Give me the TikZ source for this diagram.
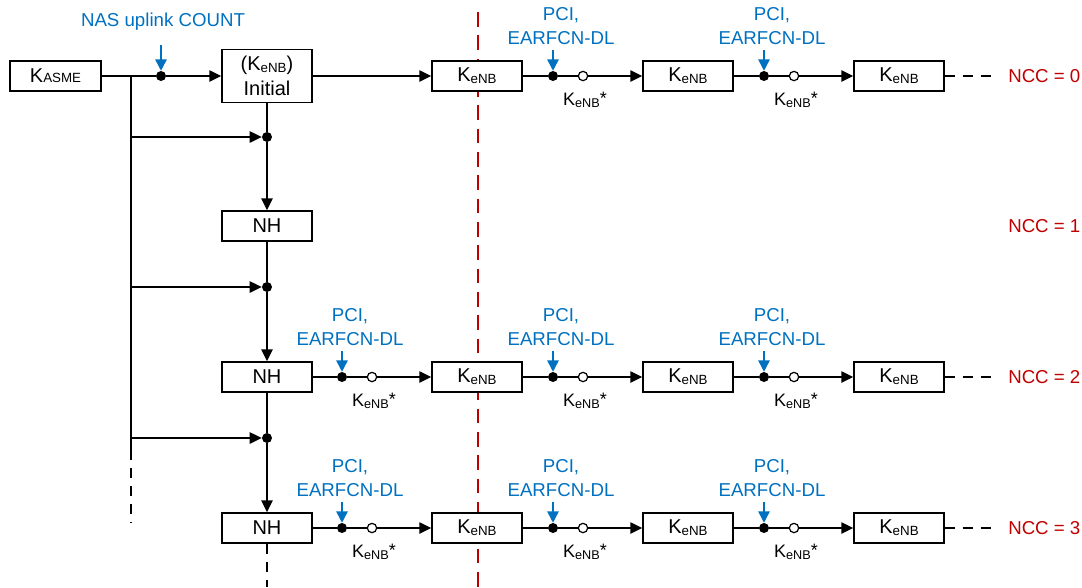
\documentclass[tikz,border=0pt]{standalone}
\usepackage{fontspec}
\setmainfont{Liberation Sans}
\usetikzlibrary{arrows.meta}
\definecolor{nblue}{RGB}{0,112,192}
\definecolor{nred}{RGB}{192,0,0}
\newcommand{\ksub}[2]{K\raisebox{#2}{\fontsize{10}{10}\selectfont #1}}
\newcommand{\keNB}{\ksub{eNB}{-1.5pt}}
\newcommand{\keNBs}{{\fontsize{13.5}{13.5}\selectfont K\raisebox{-1.5pt}{\fontsize{9.5}{9.5}\selectfont eNB}\raisebox{1pt}{*}}}
\begin{document}
\begin{tikzpicture}[x=0.75pt,y=-0.75pt,
  font=\fontsize{14}{18}\selectfont,
  box/.style={draw, line width=1.1pt, fill=white, minimum width=67.5pt, minimum height=22.5pt, inner sep=0pt, font=\fontsize{15}{17}\selectfont},
  conn/.style={line width=1.1pt},
  arr/.style={conn, -{Triangle[length=9pt,width=8.5pt]}},
  dotn/.style={circle, fill=black, minimum size=7.5pt, inner sep=0pt},
  odot/.style={circle, draw, line width=0.9pt, fill=white, minimum size=7pt, inner sep=0pt},
  barr/.style={draw=nblue, line width=1.1pt, -{Triangle[length=8.5pt,width=8.5pt]}},
  lbl/.style={text=nblue, align=center, inner sep=0pt},
  nccl/.style={text=nred, anchor=west, inner sep=0pt},
  dashln/.style={conn, dash pattern=on 7.5pt off 6pt},
  reddash/.style={draw=nred, line width=1.7pt, dash pattern=on 11pt off 6.5pt},
  starl/.style={inner sep=0pt}
]
\useasboundingbox (0,0) rectangle (1082,587);

% red boundary
\coordinate (rtop) at (478,12);
\coordinate (rbot) at (478,587);
\draw[reddash] (rtop) -- (rbot);

% left part
\node[box, minimum width=68.25pt] (kasme) at (55.5,76) {\ksub{ASME}{0pt}};
\node[box, minimum height=39.75pt, align=center, font=\fontsize{15}{18.5}\selectfont] (init) at (267,76) {(\keNB)\\Initial};
\node[dotn] (nasdot) at (161,76) {};
\node[text=nblue, inner sep=0pt] (nas) at (163,22) {NAS uplink COUNT};
\coordinate (nasa) at (161,45);
\draw[barr] (nasa) -- (nasdot);
\coordinate (sp0) at (131,76);
\draw[conn] (kasme) -- (nasdot);
\draw[arr] (nasdot) -- (init);

\node[box] (nh1) at (267,226) {NH};
\node[box] (nh2) at (267,377) {NH};
\node[box] (nh3) at (267,528) {NH};
\node[dotn] (j1) at (267,137) {};
\node[dotn] (j2) at (267,287) {};
\node[dotn] (j3) at (267,438) {};
\coordinate (sp1) at (131,137);
\coordinate (sp2) at (131,287);
\coordinate (sp3) at (131,438);
\coordinate (spe) at (131,450);
\coordinate (spd) at (131,523);
\draw[conn] (sp0) -- (spe);
\draw[dashln] (spe) -- (spd);
\draw[arr] (sp1) -- (j1);
\draw[arr] (sp2) -- (j2);
\draw[arr] (sp3) -- (j3);
\draw[conn] (init) -- (j1);
\draw[arr] (j1) -- (nh1);
\draw[conn] (nh1) -- (j2);
\draw[arr] (j2) -- (nh2);
\draw[conn] (nh2) -- (j3);
\draw[arr] (j3) -- (nh3);
\coordinate (nhe) at (267,587);
\draw[dashln] (nh3) -- (nhe);

% row 0
\foreach \n/\x in {a/477,b/688,c/899}{
  \node[box] (k0\n) at (\x,76) {\keNB};
}
\draw[arr] (init.east |- k0a) -- (k0a);
\foreach \p/\q/\d in {a/b/553,b/c/764}{
  \node[dotn] (d0\p) at (\d,76) {};
  \node[odot] (o0\p) at (\d+30,76) {};
  \node[starl] (s0\p) at (\d+32,100) {\keNBs};
  \node[lbl] (l0\p) at (\d+8,26) {PCI,\\EARFCN-DL};
  \coordinate (b0\p) at (\d,50);
  \draw[barr] (b0\p) -- (d0\p);
  \draw[conn] (k0\p) -- (d0\p);
  \draw[conn] (d0\p) -- (o0\p);
  \draw[arr] (o0\p) -- (k0\q);
}
\coordinate (e0) at (992,76);
\draw[dashln] (k0c) -- (e0);
\node[nccl] (ncc0) at (1008,76) {NCC = 0};
\node[nccl] (ncc1) at (1008,226) {NCC = 1};

% rows 2 and 3
\foreach \r/\y in {2/377,3/528}{
  \foreach \n/\x in {a/477,b/688,c/899}{
    \node[box] (k\r\n) at (\x,\y) {\keNB};
  }
  \foreach \p/\q/\d in {a/a/342,b/b/553,c/c/764}{
    \node[dotn] (d\r\p) at (\d,\y) {};
    \node[odot] (o\r\p) at (\d+30,\y) {};
    \node[starl] (s\r\p) at (\d+32,\y+24) {\keNBs};
    \node[lbl] (l\r\p) at (\d+8,\y-50) {PCI,\\EARFCN-DL};
    \coordinate (b\r\p) at (\d,\y-26);
    \draw[barr] (b\r\p) -- (d\r\p);
    \draw[conn] (d\r\p) -- (o\r\p);
    \draw[arr] (o\r\p) -- (k\r\q);
  }
  \draw[conn] (nh\r) -- (d\r a);
  \draw[conn] (k\r a) -- (d\r b);
  \draw[conn] (k\r b) -- (d\r c);
  \coordinate (e\r) at (992,\y);
  \draw[dashln] (k\r c) -- (e\r);
  \node[nccl] (ncc\r) at (1008,\y) {NCC = \r};
}
\end{tikzpicture}
\end{document}
